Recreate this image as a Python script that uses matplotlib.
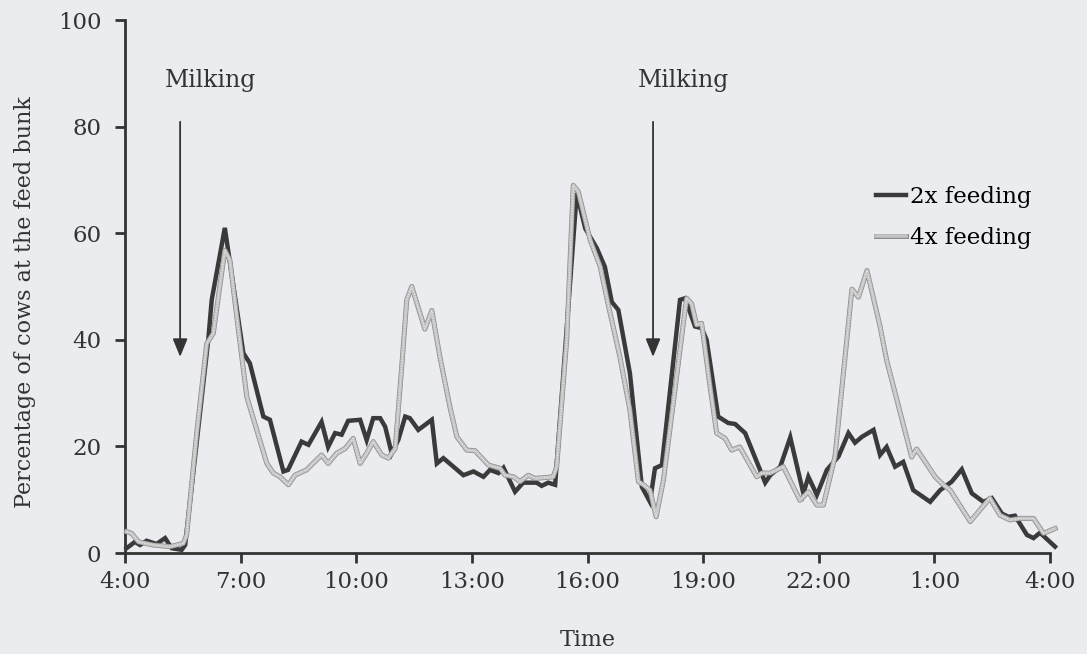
import numpy as np
from matplotlib import pyplot as plt
import matplotlib.patheffects as pe

# hours since midnight (4:00 -> 28 = 4:00 next day), % of cows at the bunk
t_2x = [4.04, 4.26, 4.39, 4.56, 4.82, 5.04, 5.21, 5.47, 5.56, 6.16, 6.25, 6.59,
        7.07, 7.24, 7.59, 7.76, 8.11, 8.23, 8.58, 8.76, 9.10, 9.27, 9.45, 9.62,
        9.79, 10.10, 10.27, 10.44, 10.62, 10.75, 10.92, 11.09, 11.27, 11.39,
        11.61, 11.96, 12.09, 12.26, 12.78, 13.04, 13.30, 13.47, 13.69, 13.82,
        14.12, 14.33, 14.68, 14.81, 14.98, 15.16, 15.72, 15.94, 16.24, 16.45,
        16.63, 16.80, 17.10, 17.41, 17.62, 17.75, 17.93, 18.40, 18.53, 18.79,
        18.96, 19.09, 19.39, 19.65, 19.83, 20.09, 20.61, 20.74, 21.00, 21.26,
        21.60, 21.73, 21.95, 22.21, 22.51, 22.77, 22.94, 23.12, 23.42, 23.59,
        23.76, 23.98, 24.19, 24.45, 24.89, 25.15, 25.45, 25.71, 25.97, 26.27,
        26.49, 26.75, 26.92, 27.09, 27.40, 27.57, 27.74, 28.13]
v_2x = [0.9, 2.1, 1.5, 2.3, 1.7, 2.8, 0.9, 0.6, 1.5, 40, 47.5, 61,
        37.5, 35.6, 25.6, 25, 15.3, 15.6, 20.9, 20.3, 24.6, 19.9, 22.5, 22.2,
        24.8, 25, 21.2, 25.3, 25.3, 23.7, 18.7, 21.2, 25.6, 25.3,
        23.1, 25, 16.8, 17.8, 14.6, 15.3, 14.3, 15.6, 15, 16,
        11.5, 13.2, 13.2, 12.6, 13.2, 12.8, 67.5, 60.9, 57.2, 53.7,
        47.1, 45.6, 33.7, 12.4, 9.6, 15.9, 16.5, 47.5, 47.8, 42.5,
        42.2, 40, 25.6, 24.4, 24.2, 22.5, 13.2, 14.6, 16.2, 21.7,
        11.2, 14.3, 10.9, 15.6, 18.1, 22.5, 20.7, 21.8, 23.1, 18.4,
        19.9, 16.2, 17.1, 11.8, 9.6, 11.8, 13.4, 15.7, 11.2, 9.6,
        10.3, 7.4, 6.8, 7, 3.4, 2.8, 3.8, 1.2]

t_4x = [4.04, 4.17, 4.35, 4.73, 5.17, 5.51, 5.60, 5.86, 6.12, 6.29, 6.59, 6.72,
        6.90, 7.16, 7.68, 7.85, 8.02, 8.24, 8.41, 8.71, 9.10, 9.27, 9.49, 9.71,
        9.92, 10.10, 10.27, 10.44, 10.66, 10.83, 11.01, 11.18, 11.31, 11.44,
        11.78, 11.96, 12.17, 12.43, 12.61, 12.87, 13.08, 13.43, 13.73, 13.86,
        14.08, 14.25, 14.46, 14.64, 15.11, 15.20, 15.46, 15.63, 15.76, 16.07,
        16.33, 16.54, 16.84, 17.10, 17.32, 17.45, 17.62, 17.78, 17.97, 18.57,
        18.70, 18.83, 18.96, 19.18, 19.35, 19.57, 19.74, 19.95, 20.39, 20.52,
        20.74, 21.08, 21.51, 21.73, 21.95, 22.12, 22.42, 22.86, 23.03, 23.25,
        23.59, 23.76, 24.41, 24.54, 25.02, 25.23, 25.41, 25.93, 26.44, 26.70,
        26.96, 27.22, 27.57, 27.83, 28.13]
v_4x = [4.0, 3.7, 2.1, 1.5, 1.2, 1.8, 3.4, 22.5, 39.3, 41.2, 56.8, 55,
        44.3, 29.3, 16.8, 15, 14.3, 12.8, 14.6, 15.6, 18.4, 16.8, 18.7, 19.6,
        21.5, 16.8, 18.7, 20.9, 18.4, 17.8, 19.6, 35, 47.5, 50,
        42, 45.5, 36.8, 27.4, 21.8, 19.3, 19.2, 16.5, 15.9, 14.6,
        14.3, 13.4, 14.6, 14, 14.3, 16.2, 40, 69, 67.8, 58.7,
        53.7, 46.5, 36.8, 26.8, 13.4, 12.8, 11.8, 6.8, 13.7, 47.8,
        46.8, 42.8, 43.1, 31.2, 22.5, 21.5, 19.3, 19.9, 14.3, 15,
        15, 16.2, 9.9, 11.5, 9, 9, 18.1, 49.5, 48, 53,
        42.5, 36.2, 18, 19.5, 14.3, 12.8, 11.8, 5.9, 10.3, 7.1,
        6.2, 6.5, 6.5, 3.7, 4.6]

xticks = [4, 7, 10, 13, 16, 19, 22, 25, 28]
xlabels = ["4:00", "7:00", "10:00", "13:00", "16:00", "19:00", "22:00", "1:00", "4:00"]
milking = [5.43, 17.70]

bg = "#eaecf0"
ink = "#333333"
plt.rcParams['font.family'] = ['DejaVu Serif']

fig = plt.figure(figsize=(10.87, 6.54), dpi=100, facecolor=bg)
ax = fig.add_axes([0.115, 0.1544, 0.851, 0.815], facecolor=bg)

line2, = ax.plot(t_2x, v_2x, color="#3a3a3a", lw=3.2, clip_on=False,
                 solid_joinstyle="miter", zorder=3)
line4, = ax.plot(t_4x, v_4x, color="#c4c4c4", lw=2.6, clip_on=False, zorder=4,
                 path_effects=[pe.Stroke(linewidth=3.6, foreground="#8a8a8a"),
                               pe.Normal()])
ax.plot(t_4x, v_4x, color="#eeeeee", lw=0.8, ls=(0, (1, 1.5)), clip_on=False,
        zorder=5)

for m in milking:
    ax.annotate("", xy=(m, 36.8), xytext=(m, 80.9),
                arrowprops=dict(arrowstyle="-|>,head_length=1.1,head_width=0.45",
                                color=ink, lw=1.3, shrinkA=0, shrinkB=0))
    ax.text(m + 0.8, 88.7, "Milking", ha="center", va="center",
            fontsize=17, color=ink)

ax.set_xlim(4, 28)
ax.set_ylim(0, 100)
ax.set_xticks(xticks)
ax.set_xticklabels(xlabels)
ax.set_yticks([0, 20, 40, 60, 80, 100])

for s in ("top", "right"):
    ax.spines[s].set_visible(False)
for s in ("left", "bottom"):
    ax.spines[s].set_linewidth(2)
    ax.spines[s].set_color(ink)

ax.tick_params(axis="both", direction="out", length=7, width=2, color=ink,
               labelsize=16.5, labelcolor=ink)
ax.tick_params(axis="y", pad=10)
ax.tick_params(axis="x", pad=6)

ax.set_xlabel("Time", fontsize=16, color=ink)
ax.set_ylabel("Percentage of cows at the feed bunk", fontsize=16, color=ink)
ax.yaxis.set_label_coords(-0.096, 0.47)
ax.xaxis.set_label_coords(0.5, -0.142)

ax.legend([line2, line4], ["2x feeding", "4x feeding"], loc="upper right",
          bbox_to_anchor=(0.99, 0.705), frameon=False, fontsize=16.5,
          handlelength=1.3, handletextpad=0.2, labelspacing=0.8,
          borderaxespad=0)

fig.savefig("out.png", dpi=100, facecolor=bg)
